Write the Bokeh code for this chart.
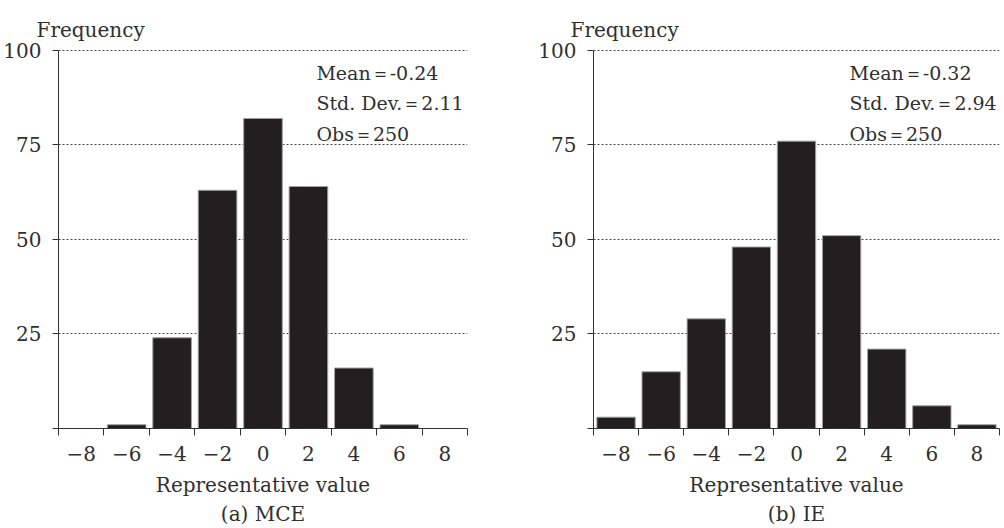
from bokeh.plotting import figure
from bokeh.layouts import row
from bokeh.models import FixedTicker, Label, Title, Range1d
from bokeh.embed import file_html
from bokeh.resources import INLINE

bins = [-8, -6, -4, -2, 0, 2, 4, 6, 8]
bin_edges = [-9, -7, -5, -3, -1, 1, 3, 5, 7, 9]
mce_counts = [0, 1, 24, 63, 82, 64, 16, 1, 0]
ie_counts = [3, 15, 29, 48, 76, 51, 21, 6, 1]
y_ticks = [0, 25, 50, 75, 100]
mce_stats = ["Mean＝-0.24", "Std. Dev.＝2.11", "Obs＝250"]
ie_stats = ["Mean＝-0.32", "Std. Dev.＝2.94", "Obs＝250"]
titles = ["(a) MCE", "(b) IE"]
y_title = "Frequency"

FONT = "DejaVu Serif"
FS = "20px"
TXT = "#303030"


def make_panel(counts, stats, title, frame_w, border_left, border_right, title_offset):
    p = figure(frame_width=frame_w, frame_height=380, output_backend="svg",
               toolbar_location=None, x_range=Range1d(-9, 9), y_range=Range1d(0, 100.5),
               min_border_left=border_left, min_border_right=border_right,
               min_border_top=48, min_border_bottom=92)
    p.outline_line_color = None
    p.xgrid.grid_line_color = None
    p.ygrid.ticker = FixedTicker(ticks=y_ticks)
    p.ygrid.grid_line_color = "#444444"
    p.ygrid.grid_line_dash = "2 2"
    p.ygrid.grid_line_width = 1

    p.vbar(x=bins, top=counts, width=1.7, fill_color="#231f20",
           line_color="#a0a0a0", line_width=1)

    # y axis
    ya = p.yaxis[0]
    ya.ticker = FixedTicker(ticks=y_ticks)
    ya.bounds = (0, 100)
    ya.major_label_overrides = {0: ""}
    ya.major_tick_out = 6
    ya.major_tick_in = 0
    ya.minor_tick_out = 0
    ya.minor_tick_in = 0
    ya.axis_line_color = "#333333"
    ya.major_tick_line_color = "#333333"
    ya.major_label_standoff = 11
    ya.major_label_text_font = FONT
    ya.major_label_text_font_size = FS
    ya.major_label_text_color = TXT

    # x axis
    xa = p.xaxis[0]
    xa.ticker = FixedTicker(ticks=bins, minor_ticks=bin_edges)
    xa.major_tick_out = 0
    xa.major_tick_in = 0
    xa.minor_tick_out = 7
    xa.minor_tick_in = 0
    xa.axis_line_color = "#333333"
    xa.minor_tick_line_color = "#333333"
    xa.major_label_standoff = 10
    xa.major_label_text_font = FONT
    xa.major_label_text_font_size = FS
    xa.major_label_text_color = TXT
    xa.axis_label = "Representative value"
    xa.axis_label_text_font = FONT
    xa.axis_label_text_font_size = FS
    xa.axis_label_text_font_style = "normal"
    xa.axis_label_text_color = TXT
    xa.axis_label_standoff = 9

    t_below = Title(text=title, align="center", text_font=FONT, text_font_size=FS,
                    text_font_style="normal", text_color=TXT, standoff=0)
    p.add_layout(t_below, "below")

    t_above = Title(text=y_title, align="left", offset=title_offset, text_font=FONT,
                    text_font_size=FS, text_font_style="normal", text_color=TXT,
                    standoff=10, vertical_align="top")
    p.add_layout(t_above, "above")

    for s, yv in zip(stats, [94, 86, 78]):
        p.add_layout(Label(x=2.35, y=yv, text=s, text_font=FONT, text_font_size="19px",
                           text_baseline="middle", text_align="left", text_color=TXT))
    return p


p1 = make_panel(mce_counts, mce_stats, titles[0], 409, 51, 32, -22)
p2 = make_panel(ie_counts, ie_stats, titles[1], 406, 94, 4, -23)
layout = row(p1, p2)

open("out.html", "w").write(file_html(layout, INLINE))
